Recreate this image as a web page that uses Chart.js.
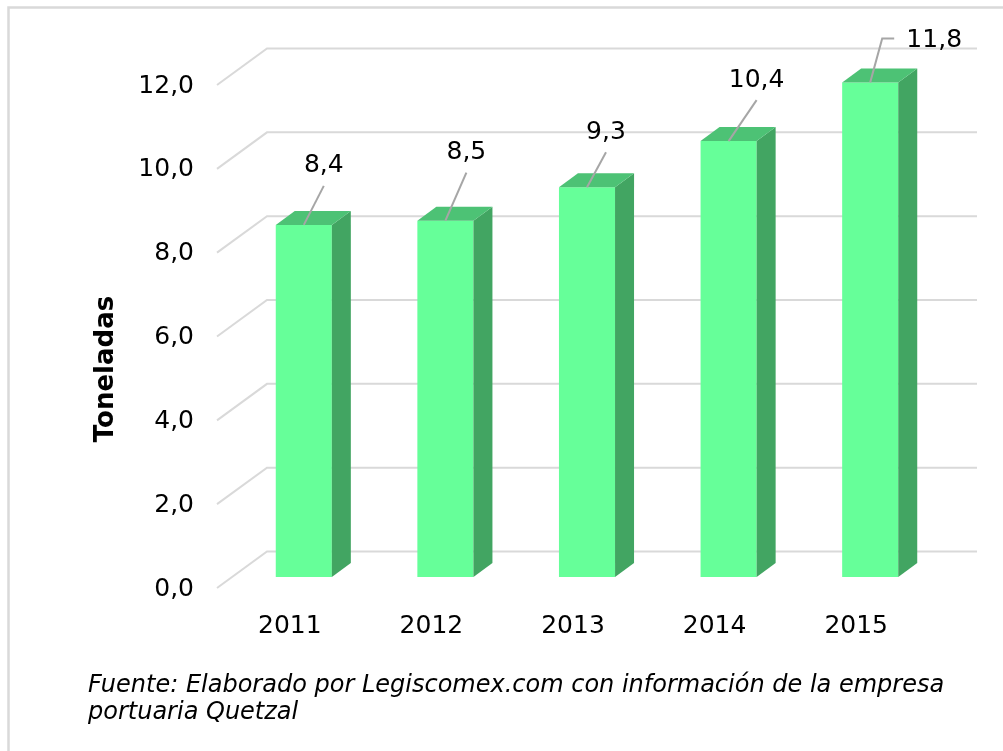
<!DOCTYPE html>
<html>
<head>
<meta charset="utf-8">
<script src="https://cdn.jsdelivr.net/npm/chart.js@4/dist/chart.umd.min.js"></script>
<style>
  html, body { margin: 0; padding: 0; background: #fff; }
  canvas { display: block; }
</style>
</head>
<body>
<canvas id="chart" width="1003" height="751"></canvas>
<script>
const years = ["2011", "2012", "2013", "2014", "2015"];
const toneladas = [8.4, 8.5, 9.3, 10.4, 11.8];
const yTicks = [0, 2, 4, 6, 8, 10, 12];
const axisTitle = "Toneladas";
const footnote = [
  "Fuente: Elaborado por Legiscomex.com con información de la empresa",
  "portuaria Quetzal",
];

const FONT = "'DejaVu Sans', Verdana, sans-serif";
const frontColor = "#66FF99";
const topColor = "#4DC275";
const sideColor = "#42A562";
const gridColor = "#D9D9D9";

// depth of the bars and of the floor/back wall, relative to the bar plane
const barDepth = { dx: 19, dy: -14 };
const frontPlane = { x: 217, dy: 11 };
const backPlane = { x: 267, dy: -25.5, right: 977 };
// where each value label sits relative to the top of its bar
const labelShift = [
  [20, -59],
  [21, -68],
  [19, -55],
  [28, -61],
  [64, -42],
];

const fmt = (v) => v.toFixed(1).replace(".", ",");

const threeD = {
  id: "threeD",
  beforeDraw(chart) {
    const ctx = chart.ctx;
    ctx.save();
    ctx.fillStyle = "#fff";
    ctx.fillRect(0, 0, chart.width, chart.height);
    ctx.strokeStyle = gridColor;
    ctx.lineWidth = 2.5;
    ctx.strokeRect(8.5, 7.5, chart.width + 20, chart.height + 20);
    ctx.restore();
  },
  beforeDatasetsDraw(chart) {
    const ctx = chart.ctx;
    const y = chart.scales.y;
    ctx.save();
    ctx.strokeStyle = gridColor;
    ctx.lineWidth = 2;
    yTicks.forEach((v) => {
      const py = y.getPixelForValue(v);
      ctx.beginPath();
      ctx.moveTo(frontPlane.x, py + frontPlane.dy);
      ctx.lineTo(backPlane.x, py + backPlane.dy);
      ctx.lineTo(backPlane.right, py + backPlane.dy);
      ctx.stroke();
    });
    ctx.fillStyle = "#000";
    ctx.font = "25px " + FONT;
    ctx.textAlign = "right";
    ctx.textBaseline = "middle";
    yTicks.forEach((v) => {
      ctx.fillText(fmt(v), 194, y.getPixelForValue(v) + frontPlane.dy + 1);
    });
    ctx.save();
    ctx.translate(106, 369);
    ctx.rotate(-Math.PI / 2);
    ctx.font = "bold 26px " + FONT;
    ctx.textAlign = "center";
    ctx.fillText(axisTitle, 0, 0);
    ctx.restore();
    ctx.font = "italic 24px " + FONT;
    ctx.textAlign = "left";
    footnote.forEach((line, i) => ctx.fillText(line, 88, 686 + i * 27));
    ctx.restore();
  },
  afterDatasetsDraw(chart) {
    const ctx = chart.ctx;
    const meta = chart.getDatasetMeta(0);
    ctx.save();
    meta.data.forEach((bar, i) => {
      const x1 = bar.x - bar.width / 2;
      const x2 = bar.x + bar.width / 2;
      const yt = bar.y;
      const yb = bar.base;
      ctx.fillStyle = sideColor;
      ctx.beginPath();
      ctx.moveTo(x2, yt);
      ctx.lineTo(x2 + barDepth.dx, yt + barDepth.dy);
      ctx.lineTo(x2 + barDepth.dx, yb + barDepth.dy);
      ctx.lineTo(x2, yb);
      ctx.closePath();
      ctx.fill();
      ctx.fillStyle = topColor;
      ctx.beginPath();
      ctx.moveTo(x1, yt);
      ctx.lineTo(x2, yt);
      ctx.lineTo(x2 + barDepth.dx, yt + barDepth.dy);
      ctx.lineTo(x1 + barDepth.dx, yt + barDepth.dy);
      ctx.closePath();
      ctx.fill();

      // leader line and value label
      const [dx, dy] = labelShift[i];
      ctx.strokeStyle = "#A6A6A6";
      ctx.lineWidth = 2;
      ctx.beginPath();
      ctx.moveTo(bar.x, yt);
      if (dx > 40) {
        ctx.lineTo(bar.x + 12, yt + dy - 2);
        ctx.lineTo(bar.x + 24, yt + dy - 2);
      } else {
        ctx.lineTo(bar.x + dx, yt + dy + 20);
      }
      ctx.stroke();
      ctx.fillStyle = "#000";
      ctx.font = "25px " + FONT;
      ctx.textAlign = "center";
      ctx.textBaseline = "middle";
      ctx.fillText(fmt(toneladas[i]), bar.x + dx, yt + dy);
    });
    ctx.restore();
  },
};

new Chart(document.getElementById("chart"), {
  type: "bar",
  data: {
    labels: years,
    datasets: [
      {
        data: toneladas,
        backgroundColor: frontColor,
        barPercentage: 0.396,
        categoryPercentage: 1,
      },
    ],
  },
  options: {
    responsive: false,
    animation: false,
    devicePixelRatio: 1,
    layout: { padding: { left: 233, right: 62, top: 74, bottom: 0 } },
    plugins: { legend: { display: false }, tooltip: { enabled: false } },
    scales: {
      y: { display: false, min: 0, max: 12 },
      x: {
        grid: { display: false, drawTicks: false },
        border: { display: false },
        ticks: {
          color: "#000",
          padding: 34,
          labelOffset: -14,
          font: { family: FONT, size: 25 },
        },
        afterFit: (s) => {
          s.height = 174;
        },
      },
    },
  },
  plugins: [threeD],
});
</script>
</body>
</html>
